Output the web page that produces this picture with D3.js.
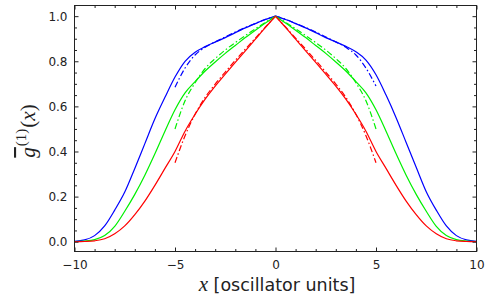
<!DOCTYPE html>
<html>
<head>
<meta charset="utf-8">
<script src="https://cdn.jsdelivr.net/npm/d3@7/dist/d3.min.js"></script>
<style>
    body { margin: 0; background: #fff; }
    svg { display: block; }
    .tick text { font-family: "DejaVu Sans", sans-serif; font-size: 12px; fill: #222; }
</style>
</head>
<body>
<div class="graphique"></div>
<script>
// x grid of the curves
const xFull = [-10,-9.5,-9,-8.5,-8,-7.5,-7,-6.5,-6,-5.5,-5,-4.5,-4,-3.5,-3,-2.5,-2,-1.5,-1,-0.5,0,
    0.5,1,1.5,2,2.5,3,3.5,4,4.5,5,5.5,6,6.5,7,7.5,8,8.5,9,9.5,10];
const xShort = [-5,-4.5,-4,-3.5,-3,-2.5,-2,-1.5,-1,-0.5,0,0.5,1,1.5,2,2.5,3,3.5,4,4.5,5];

// solid curves
const blueSolid = [0.002,0.008,0.027,0.07,0.14,0.22,0.325,0.435,0.545,0.64,0.73,0.8,0.84,0.865,0.885,0.905,0.927,0.948,0.967,0.985,1.0,
    0.985,0.967,0.948,0.927,0.905,0.886,0.866,0.842,0.805,0.74,0.65,0.55,0.44,0.33,0.222,0.14,0.07,0.027,0.008,0.002];
const greenSolid = [0.001,0.003,0.009,0.027,0.068,0.135,0.21,0.295,0.39,0.49,0.585,0.66,0.71,0.757,0.797,0.835,0.87,0.905,0.938,0.97,1.0,
    0.97,0.938,0.905,0.87,0.835,0.797,0.757,0.71,0.66,0.585,0.49,0.39,0.295,0.21,0.135,0.068,0.027,0.009,0.003,0.001];
const redSolid = [0,0.001,0.004,0.013,0.035,0.07,0.12,0.18,0.25,0.325,0.40,0.49,0.565,0.632,0.69,0.743,0.795,0.846,0.898,0.95,1.0,
    0.95,0.898,0.846,0.795,0.743,0.69,0.632,0.565,0.49,0.40,0.325,0.25,0.18,0.12,0.07,0.035,0.013,0.004,0.001,0];

// dash-dot curves
const blueDash = [0.685,0.77,0.828,0.862,0.886,0.908,0.93,0.95,0.968,0.986,1.0,0.986,0.968,0.95,0.93,0.908,0.886,0.862,0.828,0.77,0.69];
const greenDash = [0.5,0.625,0.705,0.768,0.812,0.85,0.883,0.914,0.944,0.973,1.0,0.973,0.944,0.914,0.883,0.85,0.812,0.768,0.705,0.625,0.5];
const redDash = [0.35,0.47,0.565,0.64,0.699,0.752,0.804,0.854,0.903,0.952,1.0,0.952,0.903,0.854,0.804,0.752,0.699,0.64,0.565,0.47,0.35];

const xMajor = [-10,-5,0,5,10];
const xMinor = [-9,-8,-7,-6,-4,-3,-2,-1,1,2,3,4,6,7,8,9];
const yMajor = [0,0.2,0.4,0.6,0.8,1.0];
const yMinor = [0.05,0.1,0.15,0.25,0.3,0.35,0.45,0.5,0.55,0.65,0.7,0.75,0.85,0.9,0.95];

const series = [
    { x: xFull, y: blueSolid, color: "#0000ff", dash: null },
    { x: xFull, y: greenSolid, color: "#00f000", dash: null },
    { x: xFull, y: redSolid, color: "#ff0000", dash: null },
    { x: xShort, y: blueDash, color: "#0000ff", dash: "6,2.5,1.5,2.5" },
    { x: xShort, y: greenDash, color: "#00f000", dash: "6,2.5,1.5,2.5" },
    { x: xShort, y: redDash, color: "#ff0000", dash: "6,2.5,1.5,2.5" }
];

const width = 488, height = 303;
const margin = { left: 74.5, right: 476.5, top: 5.5, bottom: 251.5 };

const svg = d3.select(".graphique").append("svg")
    .attr("width", width)
    .attr("height", height);

const xScale = d3.scaleLinear().domain([-10, 10]).range([margin.left, margin.right]);
const yScale = d3.scaleLinear().domain([-0.0434, 1.0473]).range([margin.bottom, margin.top]);

const line = d3.line().x(d => xScale(d[0])).y(d => yScale(d[1])).curve(d3.curveMonotoneX);

const plot = svg.append("g");
series.forEach(s => {
    const pts = s.x.map((v, i) => [v, s.y[i]]);
    // each side drawn on its own so the peak at 0 stays sharp
    const halves = [pts.filter(p => p[0] <= 0), pts.filter(p => p[0] >= 0)];
    halves.forEach(h => {
        plot.append("path")
            .datum(h)
            .attr("fill", "none")
            .attr("stroke", s.color)
            .attr("stroke-width", 1.2)
            .attr("stroke-dasharray", s.dash)
            .attr("d", line);
    });
});

// frame ticks, pointing inward
function addAxis(axis, tx, ty) {
    const g = svg.append("g").attr("transform", `translate(${tx},${ty})`).call(axis);
    g.select(".domain").remove();
    g.selectAll(".tick line").attr("stroke", "#222");
    return g;
}

const fmtY = d3.format(".1f");
addAxis(d3.axisBottom(xScale).tickValues(xMajor).tickSize(-4).tickPadding(9).tickFormat(d => d < 0 ? "\u2212" + Math.abs(d) : d), 0, margin.bottom);
addAxis(d3.axisBottom(xScale).tickValues(xMinor).tickSize(-2.5).tickFormat(""), 0, margin.bottom);
addAxis(d3.axisTop(xScale).tickValues(xMajor).tickSize(-4).tickFormat(""), 0, margin.top);
addAxis(d3.axisTop(xScale).tickValues(xMinor).tickSize(-2.5).tickFormat(""), 0, margin.top);
addAxis(d3.axisLeft(yScale).tickValues(yMajor).tickSize(-4).tickPadding(7).tickFormat(fmtY), margin.left, 0);
addAxis(d3.axisLeft(yScale).tickValues(yMinor).tickSize(-2.5).tickFormat(""), margin.left, 0);
addAxis(d3.axisRight(yScale).tickValues(yMajor).tickSize(-4).tickFormat(""), margin.right, 0);
addAxis(d3.axisRight(yScale).tickValues(yMinor).tickSize(-2.5).tickFormat(""), margin.right, 0);

svg.append("rect")
    .attr("x", margin.left)
    .attr("y", margin.top)
    .attr("width", margin.right - margin.left)
    .attr("height", margin.bottom - margin.top)
    .attr("fill", "none")
    .attr("stroke", "#222")
    .attr("stroke-width", 1);

// axis labels
const xLabel = svg.append("text")
    .attr("x", 277)
    .attr("y", 291)
    .attr("text-anchor", "middle")
    .attr("fill", "#222")
    .style("font-size", "17.5px");
xLabel.append("tspan")
    .style("font-family", "'Liberation Serif', serif")
    .style("font-style", "italic")
    .style("font-size", "21px")
    .text("x");
xLabel.append("tspan")
    .style("font-family", "'DejaVu Sans', sans-serif")
    .text(" [oscillator units]");

const yLabel = svg.append("text")
    .attr("transform", "translate(35,131) rotate(-90)")
    .attr("text-anchor", "middle")
    .attr("fill", "#222")
    .style("font-family", "'Liberation Serif', serif")
    .style("font-size", "21px");
yLabel.append("tspan")
    .style("font-style", "italic")
    .style("text-decoration", "overline")
    .text("g");
yLabel.append("tspan")
    .attr("dx", 1)
    .attr("dy", -9)
    .style("font-size", "15px")
    .text("(1)");
yLabel.append("tspan")
    .attr("dx", 1)
    .attr("dy", 9)
    .text("(");
yLabel.append("tspan")
    .style("font-style", "italic")
    .text("x");
yLabel.append("tspan")
    .text(")");
</script>
</body>
</html>
